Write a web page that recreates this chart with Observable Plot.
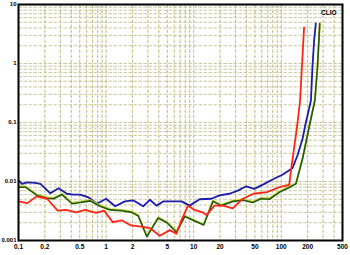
<!DOCTYPE html>
<html><head><meta charset="utf-8">
<script src="https://cdn.jsdelivr.net/npm/d3@7"></script>
<script src="https://cdn.jsdelivr.net/npm/@observablehq/plot@0.6"></script>
<style>html,body{margin:0;padding:0;background:#fff}</style>
</head><body><div id="chart"></div>
<script>
const xTicks = [0.1, 0.2, 0.5, 1, 2, 5, 10, 20, 50, 100, 200, 500];
const xTickLabels = ["0.1", "0.2", "0.5", "1", "2", "5", "10", "20", "50", "100", "200", "500"];
const yTicks = [0.001, 0.01, 0.1, 1, 10];
const yTickLabels = ["0.001", "0.01", "0.1", "1", "10"];
const seriesNames = ["red", "green", "blue"];

const blueF = [0.1,0.11,0.125,0.156,0.178,0.231,0.287,0.357,0.425,0.507,0.629,0.784,1.0,1.27,1.64,2.04,2.65,3.16,3.77,4.48,5.58,7.24,9.0,11.7,15.9,19.7,25.6,31.9,39.7,49.3,64.1,79.6,103,134,153,175,187,218,227,237,248];
const blueV = [0.0104,0.0091,0.0097,0.0095,0.0091,0.0063,0.0077,0.0062,0.0060,0.0060,0.0054,0.0042,0.0051,0.0038,0.0046,0.0048,0.0038,0.0049,0.0039,0.0046,0.0046,0.0046,0.0039,0.0050,0.0051,0.0058,0.0062,0.0070,0.0083,0.0075,0.0091,0.0108,0.0130,0.0168,0.0276,0.053,0.087,0.236,0.865,2.45,4.8];

const redF = [0.1,0.127,0.16,0.212,0.28,0.35,0.455,0.577,0.77,0.95,1.19,1.51,1.92,2.65,3.2,4.11,5.34,6.36,7.24,8.61,10.26,12.6,14,17.3,21.5,28,35.5,48,68.5,95,123,130,152,164,172,182];
const redV = [0.0046,0.0043,0.0056,0.0051,0.0032,0.0033,0.0030,0.0033,0.00295,0.0032,0.00205,0.0022,0.0018,0.0017,0.0016,0.0012,0.0015,0.0013,0.0022,0.0039,0.0033,0.0030,0.0027,0.0039,0.0039,0.0035,0.0050,0.0062,0.0066,0.0080,0.0088,0.0166,0.089,0.236,0.865,4.1];

const greenF = [0.1,0.12,0.163,0.212,0.252,0.314,0.408,0.507,0.658,0.855,1.11,1.51,1.96,2.33,2.92,3.93,4.95,6.36,7.9,13,16.6,20.6,28,37,47.2,58.7,73.1,96,125,147,175,210,242,259,275];
const greenV = [0.0080,0.0080,0.0058,0.0052,0.0051,0.0060,0.0042,0.0044,0.0047,0.0038,0.0033,0.0032,0.0030,0.0026,0.00116,0.0024,0.0020,0.00138,0.00255,0.00183,0.0046,0.0039,0.0046,0.0048,0.0044,0.0051,0.0050,0.0066,0.0080,0.0091,0.0243,0.089,0.236,0.865,4.7];

const toRows = (F, V) => F.map((f, i) => ({f, v: V[i]}));
const red = toRows(redF, redV), green = toRows(greenF, greenV), blue = toRows(blueF, blueV);

const xGrid = [], yGrid = [];
for (const d of [0.1, 1, 10, 100]) for (let m = 1; m <= 9; m++) { const v = +(d * m).toPrecision(3); if (v <= 500) xGrid.push(v); }
for (const d of [0.001, 0.01, 0.1, 1]) for (let m = 1; m <= 9; m++) yGrid.push(+(d * m).toPrecision(3));
yGrid.push(10);

const chart = Plot.plot({
  width: 350, height: 255,
  marginLeft: 18, marginRight: 8, marginTop: 4, marginBottom: 15,
  style: {fontFamily: "Liberation Sans, Arial, sans-serif", fontSize: "6px", fontWeight: "bold", color: "#000", background: "#fff", overflow: "visible"},
  x: {type: "log", domain: [0.1, 500], axis: null},
  y: {type: "log", domain: [0.001, 10], ticks: yTicks, tickFormat: d => yTickLabels[yTicks.indexOf(d)], tickSize: 0, tickPadding: 2, label: null},
  marks: [
    Plot.ruleX(xGrid, {stroke: "#d8d27a", strokeWidth: 0.9, strokeDasharray: "3,2"}),
    Plot.ruleX(xGrid, {stroke: "#8c8c9c", strokeWidth: 0.7, strokeDasharray: "2,3", strokeDashoffset: 3, strokeOpacity: 0.8}),
    Plot.ruleY(yGrid, {stroke: "#dcd88c", strokeWidth: 0.9, strokeDasharray: "3,2"}),
    Plot.ruleY(yGrid, {stroke: "#a0a4c8", strokeWidth: 0.7, strokeDasharray: "2,3", strokeDashoffset: 3, strokeOpacity: 0.8}),
    Plot.line(blue, {x: "f", y: "v", stroke: "#1c1ca8", strokeWidth: 1.8}),
    Plot.line(green, {x: "f", y: "v", stroke: "#c8d020", strokeWidth: 1.8, dy: -0.8}),
    Plot.line(green, {x: "f", y: "v", stroke: "#1e5a12", strokeWidth: 1.6}),
    Plot.line(red, {x: "f", y: "v", stroke: "#ff2414", strokeWidth: 1.8}),
    Plot.frame({stroke: "#000", strokeWidth: 2}),
    Plot.text(xTicks, {x: d => d, text: (d, i) => xTickLabels[i], frameAnchor: "bottom", dy: 8, fill: "#000", fontSize: 6.5, fontWeight: "bold"}),
    Plot.text(["CLIO"], {frameAnchor: "top-right", dx: -6, dy: 6, fill: "#000", fontSize: 6.5, fontWeight: "bold"})
  ]
});
document.getElementById("chart").appendChild(chart);
</script>
</body></html>
